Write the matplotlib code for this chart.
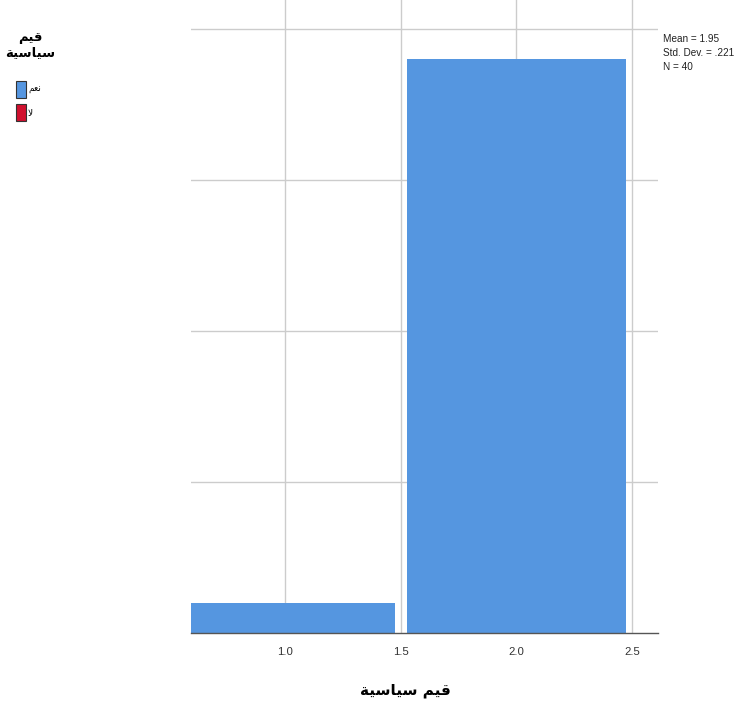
import matplotlib
matplotlib.use("Agg")
from matplotlib import pyplot as plt
from matplotlib.patches import Rectangle

# data
values = [1, 2]
counts = [2, 38]
x_ticks = [1.0, 1.5, 2.0, 2.5]
y_grid = [10, 20, 30, 40]
legend_labels = ["نعم", "لا"]
legend_colors = ["#5596E0", "#D0102E"]
axis_title = "قيم سياسية"
legend_title = "قيم\nسياسية"
stats_text = "Mean = 1.95\nStd. Dev. = .221\nN = 40"

# tiny arabic shaper (matplotlib does no contextual shaping / bidi)
# letter: (isolated, final, initial, medial); None => doesn't join to the left
FORMS = {
    "ق": ("\uFED5", "\uFED6", "\uFED7", "\uFED8"),
    "ي": ("\uFEF1", "\uFEF2", "\uFEF3", "\uFEF4"),
    "م": ("\uFEE1", "\uFEE2", "\uFEE3", "\uFEE4"),
    "س": ("\uFEB1", "\uFEB2", "\uFEB3", "\uFEB4"),
    "ن": ("\uFEE5", "\uFEE6", "\uFEE7", "\uFEE8"),
    "ع": ("\uFEC9", "\uFECA", "\uFECB", "\uFECC"),
    "ل": ("\uFEDD", "\uFEDE", "\uFEDF", "\uFEE0"),
    "ا": ("\uFE8D", "\uFE8E", None, None),
    "ة": ("\uFE93", "\uFE94", None, None),
    "ﻻ": ("\uFEFB", "\uFEFC", None, None),
}


def shape_word(w):
    w = w.replace("لا", "ﻻ")
    out = []
    for i, ch in enumerate(w):
        if ch not in FORMS:
            out.append(ch)
            continue
        prev = w[i - 1] if i > 0 else None
        nxt = w[i + 1] if i + 1 < len(w) else None
        join_prev = prev in FORMS and FORMS[prev][2] is not None
        join_next = nxt in FORMS and FORMS[ch][2] is not None
        if join_prev and join_next:
            out.append(FORMS[ch][3])
        elif join_prev:
            out.append(FORMS[ch][1])
        elif join_next:
            out.append(FORMS[ch][2])
        else:
            out.append(FORMS[ch][0])
    return "".join(out)[::-1]


def ar(s):
    lines = []
    for line in s.split("\n"):
        lines.append(" ".join(shape_word(w) for w in line.split(" ")[::-1]))
    return "\n".join(lines)


fig = plt.figure(figsize=(7.34, 7.09), dpi=100)
ax = fig.add_axes([0.260, 0.107, 0.636, 0.893])

ax.bar(values, counts, width=0.95, color=legend_colors[0], edgecolor="none", zorder=2)
ax.set_xlim(0.593, 2.61)
ax.set_ylim(0, 41.9)

for x in x_ticks:
    ax.axvline(x, color="#cccccc", lw=1.0, zorder=1)
for y in y_grid:
    ax.axhline(y, color="#cccccc", lw=1.0, zorder=1)

for s in ["top", "right", "left"]:
    ax.spines[s].set_visible(False)
ax.spines["bottom"].set_color("#555555")
ax.spines["bottom"].set_linewidth(1.0)
ax.spines["bottom"].set_zorder(3)

ax.set_xticks(x_ticks)
ax.set_xticklabels(["%.1f" % v for v in x_ticks], fontsize=8.2, color="#333333",
                   family="Liberation Sans")
ax.tick_params(axis="x", length=0, pad=10)
ax.set_yticks([])

fig.text(405 / 734, 1 - 690 / 709, ar(axis_title), ha="center", va="center",
         fontsize=11, fontweight="bold", family="DejaVu Sans")

# legend at the top-left corner
fig.text(30 / 734, 1 - 45 / 709, ar(legend_title), ha="center", va="center",
         fontsize=9.5, fontweight="bold", family="DejaVu Sans", linespacing=1.2)
for i, (lab, col) in enumerate(zip(legend_labels, legend_colors)):
    y0 = 1 - (98 + i * 23) / 709
    fig.patches.append(Rectangle((16 / 734, y0), 10 / 734, 17 / 709, transform=fig.transFigure,
                                 facecolor=col, edgecolor="#333333", lw=0.8))
    fig.text(28 / 734, y0 + 8 / 709, ar(lab), ha="left", va="center", fontsize=6.5,
             family="DejaVu Sans")

fig.text(663 / 734, 1 - 53 / 709, stats_text, ha="left", va="center", fontsize=7.2,
         family="Liberation Sans", color="#222222", linespacing=1.45)

fig.savefig("out.png", dpi=100, facecolor="white")
